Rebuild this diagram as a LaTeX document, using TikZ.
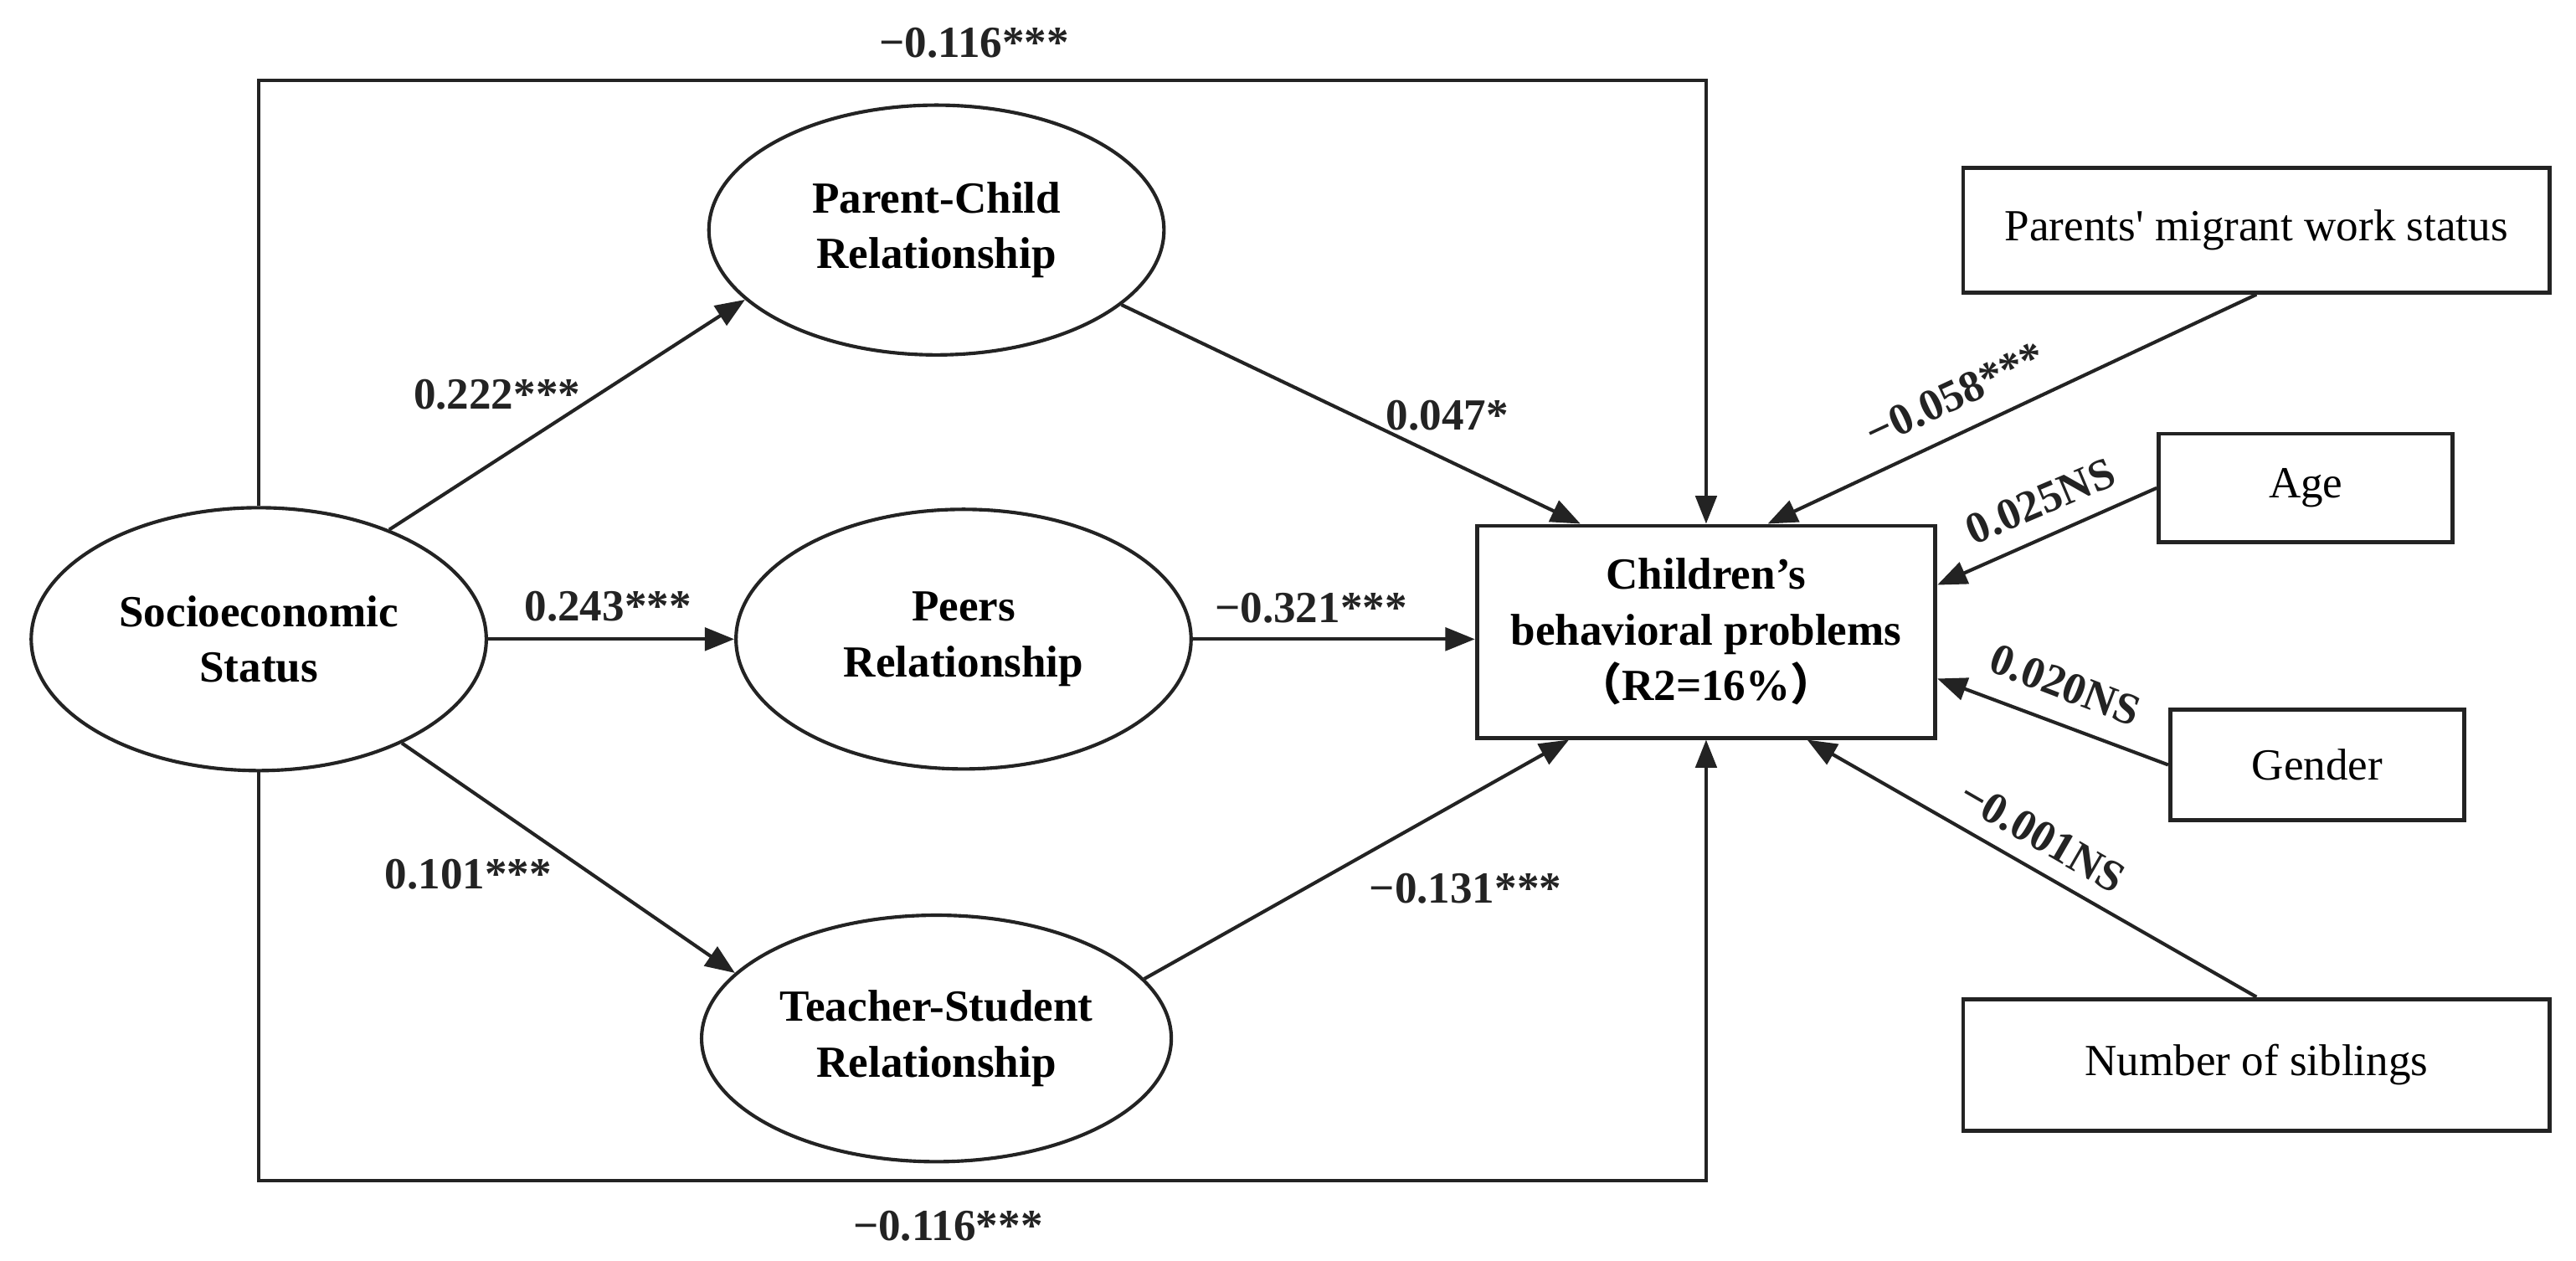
\documentclass[tikz,border=0pt]{standalone}
\usepackage{tikz}
\usepackage{xcolor}
\usepackage{fontspec}
\setmainfont{Liberation Serif}
\newfontfamily\cjk{Noto Sans CJK SC}
\usetikzlibrary{shapes.geometric, arrows.meta, positioning, calc}
\definecolor{inkcolor}{RGB}{35,35,35}
\newcommand{\diagfont}{\fontsize{15.4}{19.2}\selectfont}
\tikzset{
    latent/.style={ellipse, draw=inkcolor, line width=1.2pt, minimum width=5.54cm, align=center, font=\diagfont\bfseries},
    outcome/.style={rectangle, draw=inkcolor, line width=1.4pt, minimum width=5.58cm, minimum height=2.58cm, align=center, font=\diagfont\bfseries},
    covar/.style={rectangle, draw=inkcolor, line width=1.4pt, font=\diagfont},
    link/.style={-{Triangle[length=0.36cm,width=0.28cm]}, draw=inkcolor, line width=1.2pt},
    frame/.style={-{Triangle[length=0.34cm,width=0.26cm]}, draw=inkcolor, line width=1pt},
    coef/.style={font=\diagfont\bfseries, text=inkcolor}
}

\begin{document}
\begin{tikzpicture}
    \useasboundingbox (0,0) rectangle (31.36,15.34);

    % latent variables
    \node[latent, minimum height=3.2cm] (ses) at (3.15,7.56) {Socioeconomic\\Status};
    \node[latent, minimum height=3.04cm] (pc) at (11.40,12.54) {Parent-Child\\Relationship};
    \node[latent, minimum height=3.16cm] (peers) at (11.73,7.56) {Peers\\Relationship};
    \node[latent, minimum height=3.0cm] (ts) at (11.40,2.70) {Teacher-Student\\Relationship};

    % outcome
    \node[outcome] (chp) at (20.77,7.65) {Children’s\\behavioral problems\\{\cjk （}R2=16\%{\cjk ）}};

    % control variables
    \node[covar, minimum width=7.14cm, minimum height=1.52cm] (migr) at (27.47,12.54) {Parents\textquotesingle{} migrant work status};
    \node[covar, minimum width=3.58cm, minimum height=1.32cm] (age) at (28.07,9.40) {Age};
    \node[covar, minimum width=3.58cm, minimum height=1.34cm] (gend) at (28.21,6.03) {Gender};
    \node[covar, minimum width=7.14cm, minimum height=1.6cm] (sibs) at (27.47,2.38) {Number of siblings};

    % direct effect frame
    \coordinate (ftop) at (0,14.36);
    \coordinate (fbot) at (0,0.97);
    \draw[frame] (ses.north) -- (ses.north |- ftop) -| (chp.north);
    \draw[frame] (ses.south) -- (ses.south |- fbot) -| (chp.south);

    % paths
    \draw[link] (ses.40) -- (pc.200);
    \draw[link] (ses.east) -- (peers.west);
    \draw[link] (ses.-36) -- (ts.162);
    \draw[link] (pc.-22) -- ([xshift=-1.53cm]chp.north);
    \draw[link] (peers.east) -- (peers.east -| chp.west);
    \draw[link] (ts.16) -- ([xshift=-1.67cm]chp.south);
    \draw[link] (migr.south) -- ([xshift=0.75cm]chp.north);
    \draw[link] (age.west) -- ([yshift=0.57cm]chp.east);
    \draw[link] (gend.west) -- ([yshift=-0.57cm]chp.east);
    \draw[link] (sibs.north) -- ([xshift=1.23cm]chp.south);

    % coefficients
    \node[coef] (ctop) at (11.86,14.82) {−0.116***};
    \node[coef] (cbot) at (11.54,0.42) {−0.116***};
    \node[coef] (cpc) at (6.05,10.54) {0.222***};
    \node[coef] (cpeer) at (7.40,7.96) {0.243***};
    \node[coef] (cts) at (5.70,4.70) {0.101***};
    \node[coef] (cpcy) at (17.62,10.28) {0.047*};
    \node[coef] (cpeery) at (15.96,7.94) {−0.321***};
    \node[coef] (ctsy) at (17.84,4.52) {−0.131***};
    \node[coef, rotate=25] (cmigr) at (23.80,10.54) {−0.058***};
    \node[coef, rotate=23] (cage) at (24.84,9.24) {0.025NS};
    \node[coef, rotate=-21] (cgend) at (25.14,7.00) {0.020NS};
    \node[coef, rotate=-30] (csibs) at (24.86,5.16) {−0.001NS};
\end{tikzpicture}
\end{document}
